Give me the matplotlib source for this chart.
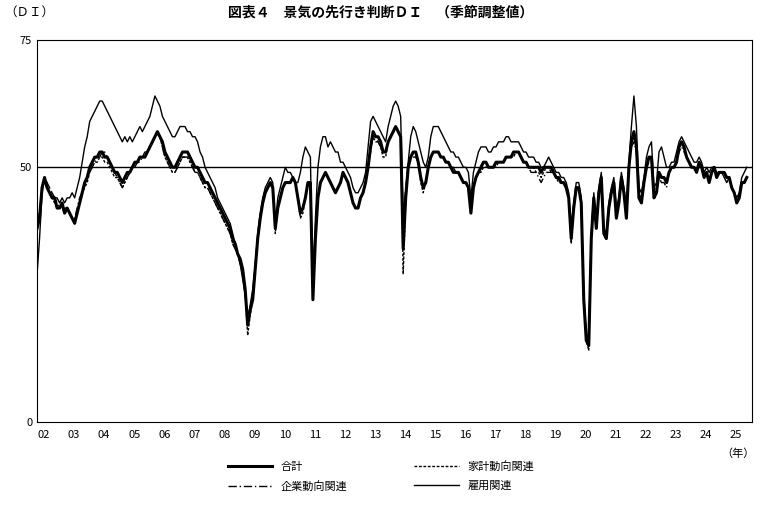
import numpy as np
import matplotlib.pyplot as plt

plt.rcParams['font.family'] = 'Noto Sans CJK JP'

# monthly outlook DI, Jan 2002 .. Aug 2025
total = [
    38, 40, 46, 48, 46, 45, 44, 44, 42, 42, 43, 41,
    42, 41, 40, 39, 41, 43, 45, 47, 48, 50, 51, 52,
    52, 53, 53, 52, 52, 51, 50, 49, 49, 48, 47, 48,
    49, 49, 50, 51, 51, 52, 52, 52, 53, 54, 55, 56,
    57, 56, 55, 53, 52, 51, 50, 50, 51, 52, 53, 53,
    53, 52, 51, 50, 50, 49, 48, 47, 47, 46, 45, 44,
    43, 42, 41, 40, 39, 38, 36, 35, 33, 32, 30, 26,
    19, 22, 24, 30, 36, 40, 43, 45, 46, 47, 46, 38,
    42, 44, 46, 47, 47, 47, 48, 47, 44, 41, 42, 44,
    47, 47, 24, 36, 44, 47, 48, 49, 48, 47, 46, 45,
    46, 47, 49, 48, 47, 45, 43, 42, 42, 44, 45, 47,
    50, 54, 57, 56, 56, 55, 53, 53, 55, 56, 57, 58,
    57, 56, 34, 44, 50, 52, 53, 53, 51, 48, 46, 47,
    50, 52, 53, 53, 53, 52, 52, 51, 51, 50, 49, 49,
    49, 48, 47, 47, 46, 41, 46, 48, 49, 50, 51, 51,
    50, 50, 50, 51, 51, 51, 51, 52, 52, 52, 53, 53,
    53, 52, 51, 51, 50, 50, 50, 50, 50, 49, 50, 50,
    50, 50, 49, 48, 48, 47, 47, 46, 44, 36, 42, 46,
    46, 43, 24, 16, 15, 36, 44, 38, 45, 48, 37, 36,
    42, 45, 47, 40, 43, 48, 45, 40, 50, 55, 57, 54,
    44, 43, 47, 50, 52, 52, 44, 45, 49, 48, 48, 47,
    49, 50, 50, 51, 54, 55, 54, 52, 51, 50, 50, 49,
    51, 50, 48, 49, 47, 49, 50, 48, 49, 49, 49, 48,
    48, 46, 45, 43, 44, 47, 47, 48,
]
household = [
    39, 41, 46, 47, 46, 45, 44, 43, 42, 42, 42, 41,
    42, 41, 40, 39, 41, 43, 45, 46, 47, 49, 50, 51,
    51, 52, 52, 51, 51, 50, 49, 48, 48, 47, 46, 47,
    48, 49, 50, 51, 51, 52, 52, 52, 53, 54, 55, 56,
    57, 56, 54, 52, 51, 50, 49, 49, 50, 51, 52, 52,
    52, 51, 50, 49, 49, 48, 47, 46, 46, 45, 44, 43,
    42, 41, 40, 39, 38, 37, 35, 34, 33, 32, 30, 25,
    17, 21, 24, 30, 36, 40, 43, 45, 46, 47, 46, 37,
    42, 44, 46, 47, 47, 47, 48, 47, 44, 40, 41, 44,
    47, 47, 24, 36, 44, 47, 48, 49, 48, 47, 46, 45,
    46, 47, 49, 48, 47, 45, 43, 42, 42, 44, 45, 47,
    50, 53, 56, 55, 55, 54, 52, 52, 55, 56, 57, 58,
    57, 56, 29, 43, 50, 52, 53, 53, 51, 47, 45, 47,
    50, 52, 53, 53, 53, 52, 52, 51, 51, 50, 49, 49,
    49, 48, 47, 47, 46, 41, 46, 48, 49, 49, 50, 50,
    50, 50, 50, 50, 51, 51, 51, 52, 52, 52, 52, 53,
    53, 52, 51, 51, 50, 50, 50, 49, 49, 48, 49, 50,
    50, 49, 49, 48, 47, 47, 47, 46, 44, 35, 42, 46,
    46, 43, 24, 16, 14, 36, 44, 38, 45, 48, 37, 36,
    42, 45, 47, 40, 43, 48, 45, 40, 50, 55, 56, 54,
    44, 43, 47, 50, 52, 52, 44, 45, 48, 48, 48, 47,
    49, 50, 50, 51, 54, 55, 54, 52, 51, 50, 50, 49,
    51, 50, 48, 49, 47, 49, 50, 48, 49, 49, 49, 48,
    48, 46, 45, 43, 44, 47, 47, 48,
]
corporate = [
    40, 41, 46, 48, 47, 46, 45, 44, 43, 42, 43, 42,
    42, 41, 40, 40, 42, 44, 45, 47, 48, 49, 50, 51,
    52, 52, 53, 53, 52, 51, 50, 49, 48, 47, 46, 47,
    48, 49, 50, 50, 51, 51, 52, 53, 53, 54, 55, 56,
    57, 56, 54, 52, 51, 50, 49, 49, 50, 51, 52, 52,
    52, 51, 50, 49, 49, 48, 47, 46, 46, 45, 44, 43,
    42, 41, 40, 39, 38, 37, 35, 34, 33, 31, 29, 25,
    19, 22, 25, 30, 36, 40, 43, 45, 46, 47, 46, 39,
    42, 44, 46, 47, 47, 47, 48, 47, 44, 41, 42, 44,
    47, 47, 25, 37, 44, 47, 48, 49, 48, 47, 46, 45,
    46, 47, 49, 48, 47, 45, 43, 42, 42, 44, 45, 47,
    50, 54, 56, 56, 55, 54, 53, 53, 55, 56, 57, 57,
    57, 56, 38, 46, 50, 52, 52, 52, 51, 48, 47, 47,
    50, 52, 53, 53, 53, 52, 52, 51, 51, 50, 50, 49,
    49, 48, 47, 47, 46, 42, 46, 48, 49, 50, 51, 51,
    50, 50, 50, 51, 51, 51, 51, 52, 52, 52, 53, 53,
    53, 52, 51, 51, 50, 49, 49, 49, 48, 47, 48, 49,
    49, 49, 49, 48, 48, 47, 47, 46, 44, 37, 42, 46,
    46, 43, 25, 17, 16, 37, 44, 38, 45, 48, 38, 37,
    42, 45, 47, 41, 43, 48, 45, 41, 50, 54, 55, 53,
    45, 44, 47, 50, 51, 51, 45, 46, 48, 47, 47, 46,
    49, 50, 50, 51, 53, 54, 53, 52, 51, 50, 50, 49,
    50, 50, 48, 49, 47, 49, 50, 48, 49, 49, 49, 48,
    48, 46, 45, 43, 44, 47, 47, 48,
]
employment = [
    29, 36, 45, 48, 46, 45, 45, 44, 44, 43, 44, 43,
    44, 44, 45, 44, 46, 48, 51, 54, 56, 59, 60, 61,
    62, 63, 63, 62, 61, 60, 59, 58, 57, 56, 55, 56,
    55, 56, 55, 56, 57, 58, 57, 58, 59, 60, 62, 64,
    63, 62, 60, 59, 58, 57, 56, 56, 57, 58, 58, 58,
    57, 57, 56, 56, 55, 53, 52, 50, 49, 48, 47, 46,
    44, 43, 42, 41, 40, 39, 37, 35, 33, 31, 28, 25,
    20, 23, 26, 31, 37, 41, 44, 46, 47, 48, 47, 39,
    44, 46, 48, 50, 49, 49, 48, 47, 47, 49, 52, 54,
    53, 52, 25, 40, 50, 54, 56, 56, 54, 55, 54, 53,
    53, 51, 51, 50, 49, 48, 46, 45, 45, 46, 47, 49,
    54, 59, 60, 59, 58, 57, 56, 55, 58, 60, 62, 63,
    62, 60, 40, 45, 51, 56, 58, 57, 55, 53, 51, 50,
    52, 56, 58, 58, 58, 57, 56, 55, 54, 53, 53, 52,
    52, 51, 50, 50, 49, 44, 49, 51, 53, 54, 54, 54,
    53, 53, 54, 54, 55, 55, 55, 56, 56, 55, 55, 55,
    55, 54, 53, 53, 52, 52, 52, 51, 51, 50, 50, 51,
    52, 51, 50, 49, 49, 48, 48, 47, 45, 38, 43, 47,
    47, 44, 25, 17, 16, 37, 45, 39, 46, 49, 38, 37,
    43, 46, 48, 42, 44, 49, 46, 42, 51, 58, 64, 58,
    46, 45, 48, 52, 54, 55, 46, 47, 53, 54, 52, 50,
    50, 51, 51, 53, 55, 56, 55, 54, 53, 52, 51, 51,
    52, 51, 49, 50, 49, 50, 50, 49, 49, 49, 48, 47,
    48, 46, 45, 44, 45, 48, 49, 50,
]
year_labels = ['%02d' % y for y in range(2, 26)]

x = 2002 + np.arange(len(total)) / 12.0

fig = plt.figure(figsize=(7.62, 5.07), dpi=100)
ax = fig.add_axes([0.0486, 0.1677, 0.938, 0.7535])

ax.plot(x, employment, color='black', lw=1.0, label='雇用関連')
ax.plot(x, household, color='black', lw=1.0, ls=(0, (2, 1.2)), label='家計動向関連')
ax.plot(x, corporate, color='black', lw=1.0, ls=(0, (6, 2, 1, 2)), label='企業動向関連')
ax.plot(x, total, color='black', lw=2.2, label='合計')
ax.axhline(50, color='black', lw=1.0)

ax.set_xlim(2002, 2025.75)
ax.set_ylim(0, 75)
ax.set_yticks([0, 50, 75])
ax.set_xticks(np.arange(2002, 2026))
ax.set_xticklabels([])
ax.set_xticks(np.arange(2002, 2026) + 0.23, minor=True)
ax.set_xticklabels(year_labels, minor=True)
ax.tick_params(axis='x', which='both', length=0, labelsize=8, pad=6)
ax.tick_params(axis='y', length=0, labelsize=8)

fig.text(0.5, 0.975, '図表４　景気の先行き判断ＤＩ　（季節調整値）', ha='center', va='center', fontsize=10, fontweight='bold')
fig.text(0.005, 0.975, '（ＤＩ）', ha='left', va='center', fontsize=9)
fig.text(0.99, 0.105, '（年）', ha='right', va='center', fontsize=8)

# legend filled column-wise: 合計/企業 in col 1, 家計/雇用 in col 2
h, l = ax.get_legend_handles_labels()
order = [3, 2, 1, 0]
fig.legend([h[i] for i in order], [l[i] for i in order], ncol=2, frameon=False,
           loc='center', bbox_to_anchor=(0.5, 0.06), fontsize=8,
           handlelength=4, columnspacing=6, labelspacing=0.8)

fig.savefig('out.png', dpi=100)
